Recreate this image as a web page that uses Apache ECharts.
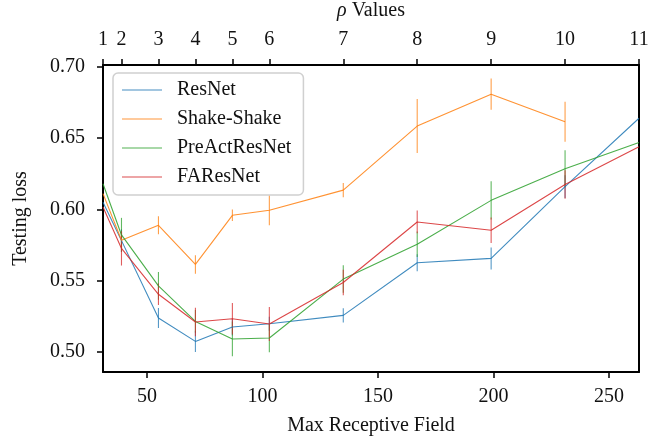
<!DOCTYPE html>
<html>
<head>
<meta charset="utf-8">
<script src="https://cdn.jsdelivr.net/npm/echarts@6/dist/echarts.min.js"></script>
<style>
  html, body { margin: 0; padding: 0; background: #fff; }
  #chart { width: 654px; height: 439px; }
</style>
</head>
<body>
<div id="chart"></div>
<script>
// receptive field for each rho value
var rhoValues = [1, 2, 3, 4, 5, 6, 7, 8, 9, 10, 11];
var receptiveField = [31, 39, 55, 71, 87, 103, 135, 167, 199, 231, 263];
var xTicks = [50, 100, 150, 200, 250];
var yTicks = [0.50, 0.55, 0.60, 0.65, 0.70];

var resnet = [0.605, 0.578, 0.5236, 0.5072, 0.5173, 0.5196, 0.5255, 0.5625, 0.5655, 0.616, 0.664];
var resnetErr = [null, 0.008, 0.007, 0.0075, 0.006, 0.005, 0.005, 0.006, 0.0077, 0.008, null];

var shake = [0.611, 0.5783, 0.5888, 0.5613, 0.5958, 0.5993, 0.6135, 0.6585, 0.6809, 0.6615];
var shakeErr = [null, 0.005, 0.0063, 0.0065, 0.004, 0.0105, 0.005, 0.019, 0.011, 0.014];

var preact = [0.618, 0.582, 0.5462, 0.5212, 0.5089, 0.5096, 0.551, 0.5755, 0.6063, 0.6285, 0.6469];
var preactErr = [null, 0.012, 0.0097, 0.008, 0.0122, 0.01, 0.0097, 0.009, 0.0134, 0.013, null];

var faresnet = [0.6016, 0.5725, 0.5403, 0.5208, 0.5231, 0.5194, 0.5486, 0.5911, 0.5853, 0.6175, 0.644];
var faresnetErr = [null, 0.012, 0.0075, 0.010, 0.011, 0.012, 0.009, 0.008, 0.009, 0.01, null];

var models = [
    {name: 'ResNet', vals: resnet, err: resnetErr, color: '#1f77b4'},
    {name: 'Shake-Shake', vals: shake, err: shakeErr, color: '#ff7f0e'},
    {name: 'PreActResNet', vals: preact, err: preactErr, color: '#2ca02c'},
    {name: 'FAResNet', vals: faresnet, err: faresnetErr, color: '#d62728'}
];

var font = 'Liberation Serif';
var fz = 20;
var chart = echarts.init(document.getElementById('chart'));

var series = [];
models.forEach(function (m) {
    var pts = [], bars = [];
    m.vals.forEach(function (v, i) {
        pts.push([receptiveField[i], v]);
        if (m.err[i] != null) {
            bars.push([receptiveField[i], v - m.err[i], v + m.err[i]]);
        }
    });
    series.push({
        name: m.name,
        type: 'line',
        data: pts,
        symbol: 'none',
        color: m.color,
        lineStyle: {width: 1.1, color: m.color, opacity: 0.85},
        z: 3
    });
    //误差棒
    series.push({
        name: m.name,
        type: 'custom',
        data: bars,
        z: 2,
        renderItem: function (params, api) {
            var p1 = api.coord([api.value(0), api.value(1)]);
            var p2 = api.coord([api.value(0), api.value(2)]);
            return {
                type: 'line',
                shape: {x1: p1[0], y1: p1[1], x2: p2[0], y2: p2[1]},
                style: {stroke: m.color, lineWidth: 1.1, opacity: 0.75}
            };
        }
    });
});

var axisLine = {show: true, lineStyle: {color: '#000', width: 2}};

option = {
    animation: false,
    textStyle: {fontFamily: font},
    grid: {left: 103, right: 15, top: 65, bottom: 67, show: false, outerBoundsMode: 'none', containLabel: false},
    legend: {
        data: models.map(function (m) { return {name: m.name, itemStyle: {color: m.color, opacity: 0.55}}; }),
        orient: 'vertical',
        left: 113,
        top: 73,
        icon: 'rect',
        itemWidth: 40,
        itemHeight: 1.5,
        itemGap: 9,
        padding: [7, 12, 8, 9],
        borderColor: '#d0d0d0',
        borderWidth: 1.5,
        borderRadius: 5,
        backgroundColor: 'rgba(255,255,255,0.8)',
        textStyle: {fontFamily: font, fontSize: fz, color: '#111', padding: [0, 0, 0, 10]}
    },
    xAxis: [{
        type: 'value',
        position: 'bottom',
        min: 31,
        max: 263,
        name: 'Max Receptive Field',
        nameLocation: 'middle',
        nameGap: 44,
        nameTextStyle: {fontFamily: font, fontSize: fz, color: '#111'},
        axisLine: axisLine,
        axisTick: {show: true, length: 6, customValues: xTicks, lineStyle: {color: '#000', width: 1.5}},
        splitLine: {show: false},
        axisLabel: {
            customValues: xTicks,
            margin: 15,
            fontFamily: font,
            fontSize: fz,
            color: '#111'
        }
    }, {
        type: 'value',
        position: 'top',
        min: 31,
        max: 263,
        name: '{i|ρ} Values',
        nameLocation: 'middle',
        nameGap: 44,
        nameTextStyle: {
            fontFamily: font, fontSize: fz, color: '#111',
            rich: {i: {fontFamily: font, fontSize: fz, fontStyle: 'italic', color: '#111'}}
        },
        axisLine: axisLine,
        axisTick: {show: true, length: 6, customValues: receptiveField, lineStyle: {color: '#000', width: 1.5}},
        splitLine: {show: false},
        axisLabel: {
            customValues: receptiveField,
            margin: 15,
            fontFamily: font,
            fontSize: fz,
            color: '#111',
            formatter: function (v) {
                return rhoValues[receptiveField.indexOf(v)];
            }
        }
    }],
    yAxis: [{
        type: 'value',
        min: 0.4857,
        max: 0.7014,
        name: 'Testing loss',
        nameLocation: 'middle',
        nameGap: 72,
        nameTextStyle: {fontFamily: font, fontSize: fz, color: '#111'},
        axisLine: axisLine,
        axisTick: {show: true, length: 6, customValues: yTicks, lineStyle: {color: '#000', width: 1.5}},
        splitLine: {show: false},
        axisLabel: {
            customValues: yTicks,
            margin: 18,
            fontFamily: font,
            fontSize: fz,
            color: '#111',
            formatter: function (v) { return v.toFixed(2); }
        }
    }, {
        type: 'value',
        position: 'right',
        min: 0.4857,
        max: 0.7014,
        axisLine: axisLine,
        axisTick: {show: false},
        axisLabel: {show: false},
        splitLine: {show: false}
    }],
    series: series
};
chart.setOption(option);
</script>
</body>
</html>
